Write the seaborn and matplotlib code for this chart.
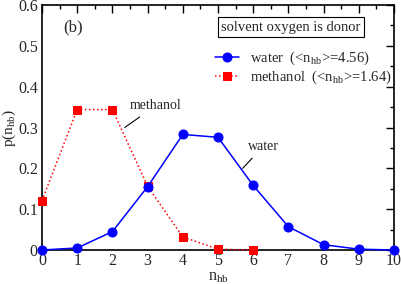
import numpy as np
import pandas as pd
import matplotlib
matplotlib.use("Agg")
import matplotlib.pyplot as plt
import seaborn as sns
from matplotlib.ticker import MultipleLocator

n_water = [0, 1, 2, 3, 4, 5, 6, 7, 8, 9, 10]
p_water = [0.0, 0.005, 0.045, 0.155, 0.283, 0.276, 0.158, 0.057, 0.013, 0.002, 0.0]
n_methanol = [0, 1, 2, 3, 4, 5, 6]
p_methanol = [0.121, 0.344, 0.344, 0.156, 0.032, 0.002, 0.0]

sns.set_theme(style="white")
plt.rcParams['font.family'] = ['Liberation Serif', 'DejaVu Serif']
plt.rcParams['mathtext.fontset'] = 'stix'

fig = plt.figure(figsize=(4.01, 2.84), dpi=100)
ax = fig.add_axes([42 / 401, 34 / 284, 352 / 401, 245 / 284])

df_w = pd.DataFrame({'n': n_water, 'p': p_water})
df_m = pd.DataFrame({'n': n_methanol, 'p': p_methanol})

sns.lineplot(data=df_w, x='n', y='p', ax=ax, color='#0000ff', lw=1.1,
             marker='o', markersize=6.5, markeredgecolor='#0000ff',
             label=r'water  (<n$_{\mathregular{hb}}$>=4.56)', clip_on=False, zorder=5)
sns.lineplot(data=df_m, x='n', y='p', ax=ax, color='#ff0000', lw=1.1,
             linestyle=':', marker='s', markersize=5.5, markeredgecolor='#ff0000',
             label=r'methanol  (<n$_{\mathregular{hb}}$>=1.64)', clip_on=False, zorder=4)

ax.set_xlim(0, 10)
ax.set_ylim(0, 0.6)
ax.xaxis.set_major_locator(MultipleLocator(1))
ax.xaxis.set_minor_locator(MultipleLocator(0.5))
ax.yaxis.set_major_locator(MultipleLocator(0.1))
ax.yaxis.set_minor_locator(MultipleLocator(0.05))
ax.set_yticks([0, 0.1, 0.2, 0.3, 0.4, 0.5, 0.6])
ax.set_yticklabels(['0', '0.1', '0.2', '0.3', '0.4', '0.5', '0.6'])
ax.tick_params(which='both', direction='in', top=True, right=True,
               labelsize=11.5, color='black', width=1)
ax.tick_params(axis='x', pad=2)
ax.tick_params(axis='y', pad=3)
ax.tick_params(which='major', length=6)
ax.tick_params(which='minor', length=3)
for s in ax.spines.values():
    s.set_color('black')
    s.set_linewidth(1.2)

ax.set_xlabel(r'n$_{\mathregular{hb}}$', fontsize=11.5)
ax.xaxis.set_label_coords(0.5, -0.077)
ax.set_ylabel(r'p(n$_{\mathregular{hb}}$)', fontsize=11)
ax.yaxis.set_label_coords(-0.067, 0.5)

ax.legend(loc='upper left', bbox_to_anchor=(0.476, 0.84), frameon=False,
          fontsize=10.5, handlelength=1.6, handletextpad=0.8, labelspacing=0.1,
          borderaxespad=0)

ax.text(0.6, 0.546, '(b)', fontsize=12, va='center')
ax.text(7.07, 0.546, 'solvent oxygen is donor', fontsize=10.5, ha='center', va='center',
        bbox=dict(boxstyle='square,pad=0.25', fc='white', ec='black', lw=0.8))

ax.annotate('methanol', xy=(2.35, 0.3), xytext=(2.5, 0.345), fontsize=10,
            arrowprops=dict(arrowstyle='-', color='black', lw=0.8, shrinkA=2, shrinkB=0))
ax.annotate('water', xy=(5.7, 0.2), xytext=(5.85, 0.245), fontsize=10,
            arrowprops=dict(arrowstyle='-', color='black', lw=0.8, shrinkA=2, shrinkB=0))

fig.savefig('out.png', dpi=100)
